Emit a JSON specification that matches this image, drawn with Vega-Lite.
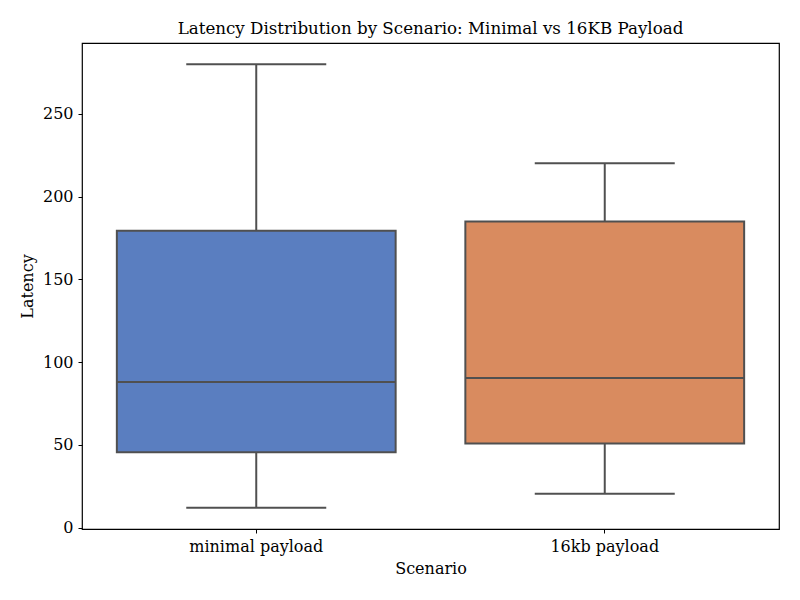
{
  "$schema": "https://vega.github.io/schema/vega-lite/v6.json",
  "width": 697,
  "height": 486,
  "autosize": {"type": "none"},
  "padding": {"left": 82, "top": 43, "right": 21, "bottom": 71},
  "background": "white",
  "config": {
    "font": "DejaVu Serif",
    "view": {"stroke": "black", "strokeWidth": 1.2},
    "axis": {"grid": false, "domain": false, "tickColor": "black", "tickSize": 4, "tickWidth": 1, "labelColor": "black", "titleColor": "black", "labelFontSize": 16, "titleFontSize": 16, "titleFontWeight": "normal", "labelPadding": 5}
  },
  "title": {"text": "Latency Distribution by Scenario: Minimal vs 16KB Payload", "fontSize": 16.7, "fontWeight": "normal", "font": "DejaVu Serif", "color": "black", "offset": 5},
  "data": {"values": [
    {"scenario": "minimal payload", "min": 12, "q1": 45.5, "median": 88, "q3": 179.3, "max": 280},
    {"scenario": "16kb payload", "min": 20.4, "q1": 50.7, "median": 90.3, "q3": 185, "max": 220.2}
  ]},
  "encoding": {
    "x": {"field": "scenario", "type": "nominal", "sort": null, "title": "Scenario",
      "scale": {"paddingInner": 0, "paddingOuter": 0},
      "axis": {"labelAngle": 0, "titlePadding": 6}}
  },
  "layer": [
    {"mark": {"type": "rule", "color": "#505050", "strokeWidth": 2},
     "encoding": {"y": {"field": "min", "type": "quantitative", "title": "Latency",
        "scale": {"domain": [-0.9, 292.8], "nice": false, "zero": false},
        "axis": {"values": [0, 50, 100, 150, 200, 250], "titlePadding": 7}},
      "y2": {"field": "q1"}}},
    {"mark": {"type": "rule", "color": "#505050", "strokeWidth": 2},
     "encoding": {"y": {"field": "q3", "type": "quantitative"}, "y2": {"field": "max"}}},
    {"mark": {"type": "bar", "width": {"band": 0.8}, "stroke": "#505050", "strokeWidth": 2, "opacity": 1},
     "encoding": {"y": {"field": "q1", "type": "quantitative"}, "y2": {"field": "q3"},
      "color": {"field": "scenario", "type": "nominal", "legend": null,
        "scale": {"domain": ["minimal payload", "16kb payload"], "range": ["#5a7ec0", "#d98b5f"]}}}},
    {"mark": {"type": "tick", "color": "#505050", "size": 279, "thickness": 2, "opacity": 1},
     "encoding": {"y": {"field": "median", "type": "quantitative"}}},
    {"mark": {"type": "tick", "color": "#505050", "size": 140, "thickness": 2, "opacity": 1},
     "encoding": {"y": {"field": "min", "type": "quantitative"}}},
    {"mark": {"type": "tick", "color": "#505050", "size": 140, "thickness": 2, "opacity": 1},
     "encoding": {"y": {"field": "max", "type": "quantitative"}}}
  ]
}
